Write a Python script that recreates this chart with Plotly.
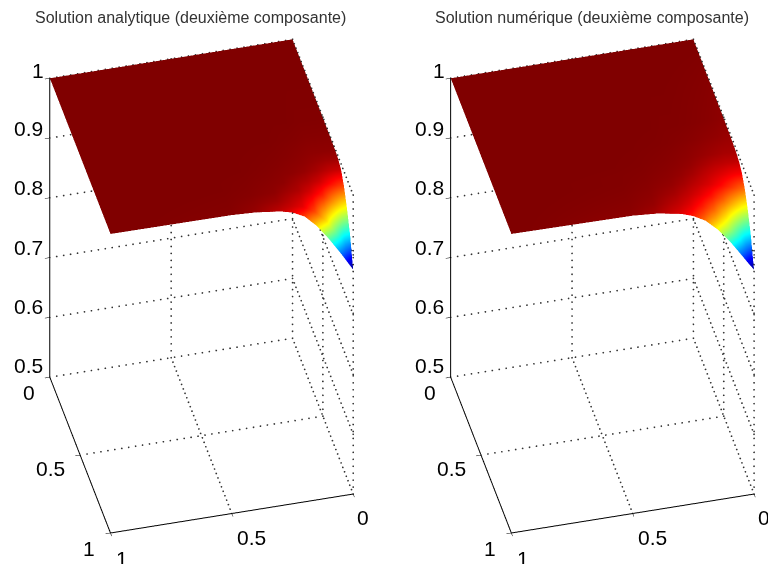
import plotly.graph_objects as go
import numpy as np

# node positions read along the two horizontal axes
x_nodes = [0, 0.025, 0.05, 0.1, 0.15, 0.2, 0.25, 0.3, 0.4, 0.5, 1]
y_nodes = [0, 0.5, 0.6, 0.7, 0.75, 0.8, 0.85, 0.9, 0.95, 0.975, 1]

analytic = [
    [1, 1, 1, 1, 1, 1, 1, 1, 1, 1, 1],
    [.9995, .9995, .9995, .9995, .9997, .9997, .9998, .9998, .9999, 1, 1],
    [.999, .999, .999, .999, .9993, .9995, .9997, .9997, .9998, .9999, 1],
    [.998, .998, .998, .998, .9985, .999, .9993, .9995, .9997, .9998, 1],
    [.996, .996, .996, .997, .998, .9985, .999, .9993, .9997, .9998, 1],
    [.991, .991, .992, .995, .997, .998, .9985, .999, .9995, .9997, 1],
    [.975, .978, .982, .990, .994, .996, .998, .9985, .9993, .9997, 1],
    [.950, .955, .963, .980, .989, .994, .996, .998, .999, .9995, 1],
    [.920, .925, .938, .962, .980, .989, .993, .996, .998, .9993, 1],
    [.897, .908, .925, .955, .975, .987, .991, .994, .9975, .9991, 1],
    [.875, .890, .905, .933, .958, .977, .987, .992, .997, .999, 1],
]
numeric = [
    [1, 1, 1, 1, 1, 1, 1, 1, 1, 1, 1],
    [.998, .9983, .9986, .999, .9993, .9995, .9995, .9997, .9998, 1, 1],
    [.997, .997, .9975, .998, .9986, .999, .9993, .9995, .9997, .9998, 1],
    [.995, .995, .995, .996, .997, .998, .9986, .999, .9995, .9997, 1],
    [.992, .992, .992, .993, .995, .997, .998, .9986, .9993, .9995, 1],
    [.985, .985, .986, .989, .992, .995, .997, .998, .999, .9995, 1],
    [.970, .973, .977, .984, .989, .992, .995, .997, .9986, .9993, 1],
    [.947, .951, .958, .972, .982, .988, .992, .995, .998, .999, 1],
    [.917, .922, .933, .955, .971, .981, .988, .992, .997, .9986, 1],
    [.895, .906, .921, .945, .963, .976, .985, .990, .996, .9983, 1],
    [.875, .888, .902, .929, .952, .970, .981, .988, .995, .998, 1],
]
titles = ["Solution analytique (deuxième composante)", "Solution numérique (deuxième composante)"]
xy_ticks = [0, 0.5, 1]
z_ticks = [0.5, 0.6, 0.7, 0.8, 0.9, 1]

jet = [[0, "rgb(0,0,143)"], [.125, "rgb(0,0,255)"], [.375, "rgb(0,255,255)"],
       [.625, "rgb(255,255,0)"], [.875, "rgb(255,0,0)"], [1, "rgb(128,0,0)"]]

def grid_dots():
    xs, ys, zs = [], [], []
    def seg(a, b, n):
        xs.extend(np.linspace(a[0], b[0], n)); ys.extend(np.linspace(a[1], b[1], n)); zs.extend(np.linspace(a[2], b[2], n))
    zlo, zhi = z_ticks[0], z_ticks[-1]
    for t in xy_ticks[:-1]:
        seg((t, 0, zlo), (t, 1, zlo), 36)
        seg((0, t, zlo), (1, t, zlo), 36)
        seg((t, 0, zlo), (t, 0, zhi), 44)
        seg((0, t, zlo), (0, t, zhi), 44)
    seg((0, 1, zlo), (0, 1, zhi), 44)
    for z in z_ticks[1:]:
        seg((0, 0, z), (1, 0, z), 36)
        seg((0, 0, z), (0, 1, z), 36)
    return xs, ys, zs

gx, gy, gz = grid_dots()
fig = go.Figure()
scenes = ["scene", "scene2"]
for name, data in zip(scenes, [analytic, numeric]):
    fig.add_trace(go.Surface(x=x_nodes, y=y_nodes, z=data, scene=name, colorscale=jet,
                             cmin=0.875, cmax=1, showscale=False, hoverinfo="skip",
                             lighting=dict(ambient=1, diffuse=0, specular=0, roughness=1, fresnel=0)))
    fig.add_trace(go.Scatter3d(x=gx, y=gy, z=gz, scene=name, mode="markers", showlegend=False,
                               hoverinfo="skip", marker=dict(color="#333", size=1, line=dict(width=0))))

def axis(ticks, dr):
    return dict(range=dr, tickvals=ticks, showticklabels=False, showgrid=False,
                zeroline=False, showbackground=False, showline=True, linecolor="#000", linewidth=2,
                ticks="outside", ticklen=5, tickcolor="#000", tickwidth=1, title=dict(text=""),
                showspikes=False)

label_font = dict(family="Liberation Sans", size=21, color="#000")
def tick_labels():
    out = []
    z_off = [(-21, 12), (-21, 11), (-21, 10), (-21, 10), (-21, 10), (-12, 8)]
    for z, (dx, dy) in zip(z_ticks, z_off):
        out.append(dict(x=1, y=0, z=z, text=f"{z:g}", xshift=dx, yshift=dy))
    y_off = [(-21, -15), (-30, -13), (-21, -15)]
    for y, (dx, dy) in zip(xy_ticks, y_off):
        out.append(dict(x=1, y=y, z=0.5, text=f"{y:g}", xshift=dx, yshift=dy))
    x_off = [(10, -23), (20, -24), (12, -25)]
    for x, (dx, dy) in zip(xy_ticks, x_off):
        out.append(dict(x=x, y=1, z=0.5, text=f"{x:g}", xshift=dx, yshift=dy))
    for a in out:
        a.update(showarrow=False, xanchor="center", yanchor="middle", font=label_font)
    return out

D = 2.0
direction = (0.186, 0.744, 0.642)
def camera(cx, cy):
    return dict(eye=dict(x=cx + direction[0] * D, y=cy + direction[1] * D, z=direction[2] * D),
                up=dict(x=0, y=0, z=1), center=dict(x=cx, y=cy, z=0),
                projection=dict(type="orthographic"))

W, H = 768, 564
def scene(domx, cx, cy):
    return dict(domain=dict(x=domx, y=[0, 556 / H]),
                xaxis=axis(xy_ticks, [0, 1]), yaxis=axis(xy_ticks, [0, 1]), zaxis=axis(z_ticks, [0.5, 1.0005]),
                aspectmode="manual", aspectratio=dict(x=0.9, y=0.9, z=1.404), camera=camera(cx, cy),
                annotations=tick_labels())

fig.update_layout(width=W, height=H, margin=dict(l=0, r=0, t=0, b=0), paper_bgcolor="white",
                  showlegend=False,
                  scene=scene([0, 403 / W], 0, 0),
                  scene2=scene([403 / W, 1], 0.0589, -0.0147),
                  annotations=[
                      dict(text=titles[0], x=190 / W, y=1 - 18 / H, xref="paper", yref="paper",
                           xanchor="center", yanchor="middle", showarrow=False,
                           font=dict(family="Liberation Sans", size=16, color="#333")),
                      dict(text=titles[1], x=592 / W, y=1 - 18 / H, xref="paper", yref="paper",
                           xanchor="center", yanchor="middle", showarrow=False,
                           font=dict(family="Liberation Sans", size=16, color="#333")),
                  ])
fig.write_html("out.html", config={"displayModeBar": False},
               post_script="document.body.style.margin='0';")
